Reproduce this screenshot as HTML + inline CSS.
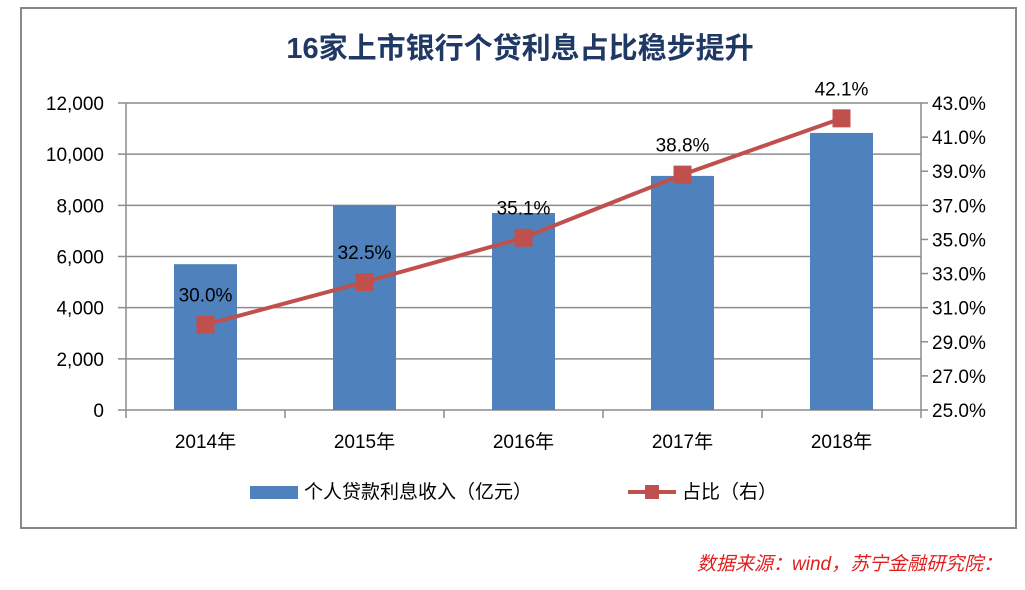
<!DOCTYPE html>
<html><head><meta charset="utf-8"><style>
body{margin:0;background:#fff;width:1025px;height:585px;overflow:hidden;font-family:"Liberation Sans","Noto Sans CJK SC",sans-serif}
svg text{font-family:"Liberation Sans","Noto Sans CJK SC",sans-serif}
</style></head><body>
<svg id="c" width="1025" height="585">
<rect x="21" y="8" width="995" height="520" fill="#fff" stroke="#888" stroke-width="2"/>
<text x="520" y="58" text-anchor="middle" font-size="29" font-weight="bold" fill="#1f3864">16家上市银行个贷利息占比稳步提升</text>
<g id="grid"></g><g id="bars"></g><g id="line"></g><g id="axes"></g>
<g>
<rect x="250" y="486" width="48" height="13" fill="#4f81bd"/>
<text x="304" y="498" font-size="19" fill="#000">个人贷款利息收入（亿元）</text>
<line x1="628" y1="492" x2="676" y2="492" stroke="#c0504d" stroke-width="4"/>
<rect x="645" y="485" width="14" height="14" fill="#c0504d"/>
<text x="682" y="498" font-size="19" fill="#000">占比（右）</text>
</g>
<text x="697" y="570" font-size="19" font-style="italic" fill="#e02020">数据来源：wind，苏宁金融研究院：</text>
</svg>
<script>
const categories=["2014年","2015年","2016年","2017年","2018年"];
const incomeValues=[5700,8000,7700,9150,10830];
const ratioValues=[30.0,32.5,35.1,38.8,42.1];
const leftTicks=[0,2000,4000,6000,8000,10000,12000];
const rightTicks=[25,27,29,31,33,35,37,39,41,43];
const X0=126,X1=921,Y0=410,Y1=103;
const NS="http://www.w3.org/2000/svg";
const yL=v=>Y0-(v/12000)*(Y0-Y1);
const yR=v=>Y0-((v-25)/18)*(Y0-Y1);
const bw=(X1-X0)/categories.length;
const xC=i=>X0+bw*(i+0.5);
function mk(p,t,a){const e=document.createElementNS(NS,t);for(const k in a)e.setAttribute(k,a[k]);document.getElementById(p).appendChild(e);return e;}
leftTicks.forEach((v,i)=>{
 const l=mk('grid','line',{x1:X0-8,x2:X1,y1:yL(v),y2:yL(v),stroke:'#8c8c8c','stroke-width':1.5});
 
 
 const t=mk('axes','text',{x:104,y:yL(v)+7,'text-anchor':'end','font-size':19,fill:'#000'});t.textContent=v.toLocaleString('en-US');
 
 
});
rightTicks.forEach(v=>{
 const l=mk('axes','line',{x1:X1,x2:X1+7,y1:yR(v),y2:yR(v),stroke:'#8c8c8c','stroke-width':1.5});
 
 
 const t=mk('axes','text',{x:X1+11,y:yR(v)+7,'font-size':19,fill:'#000'});t.textContent=v.toFixed(1)+'%';
 
 
});
let a=mk('axes','line',{x1:X0,x2:X0,y1:Y1,y2:Y0+8,stroke:'#8c8c8c','stroke-width':1.5});

a=mk('axes','line',{x1:X1,x2:X1,y1:Y1,y2:Y0,stroke:'#8c8c8c','stroke-width':1.5});

categories.forEach((c,i)=>{
 const tk=mk('axes','line',{x1:X0+bw*(i+1),x2:X0+bw*(i+1),y1:Y0,y2:Y0+8,stroke:'#8c8c8c','stroke-width':1.5});
 
 
 const t=mk('axes','text',{x:xC(i),y:448,'text-anchor':'middle','font-size':19,fill:'#000'});t.textContent=c;
 
 
 const b=mk('bars','rect',{x:xC(i)-31.5,y:yL(incomeValues[i]),width:63,height:Y0-yL(incomeValues[i]),fill:'#4f81bd'});
 
 
});
const pl=mk('line','polyline',{points:ratioValues.map((v,i)=>xC(i)+','+yR(v)).join(' '),fill:'none',stroke:'#c0504d','stroke-width':4});


ratioValues.forEach((v,i)=>{
 const m=mk('line','rect',{x:xC(i)-9,y:yR(v)-9,width:18,height:18,fill:'#c0504d'});
 
 
 const t=mk('line','text',{x:xC(i),y:yR(v)-23,'text-anchor':'middle','font-size':19,fill:'#000'});t.textContent=v.toFixed(1)+'%';
 
 
});
</script>
</body></html>
